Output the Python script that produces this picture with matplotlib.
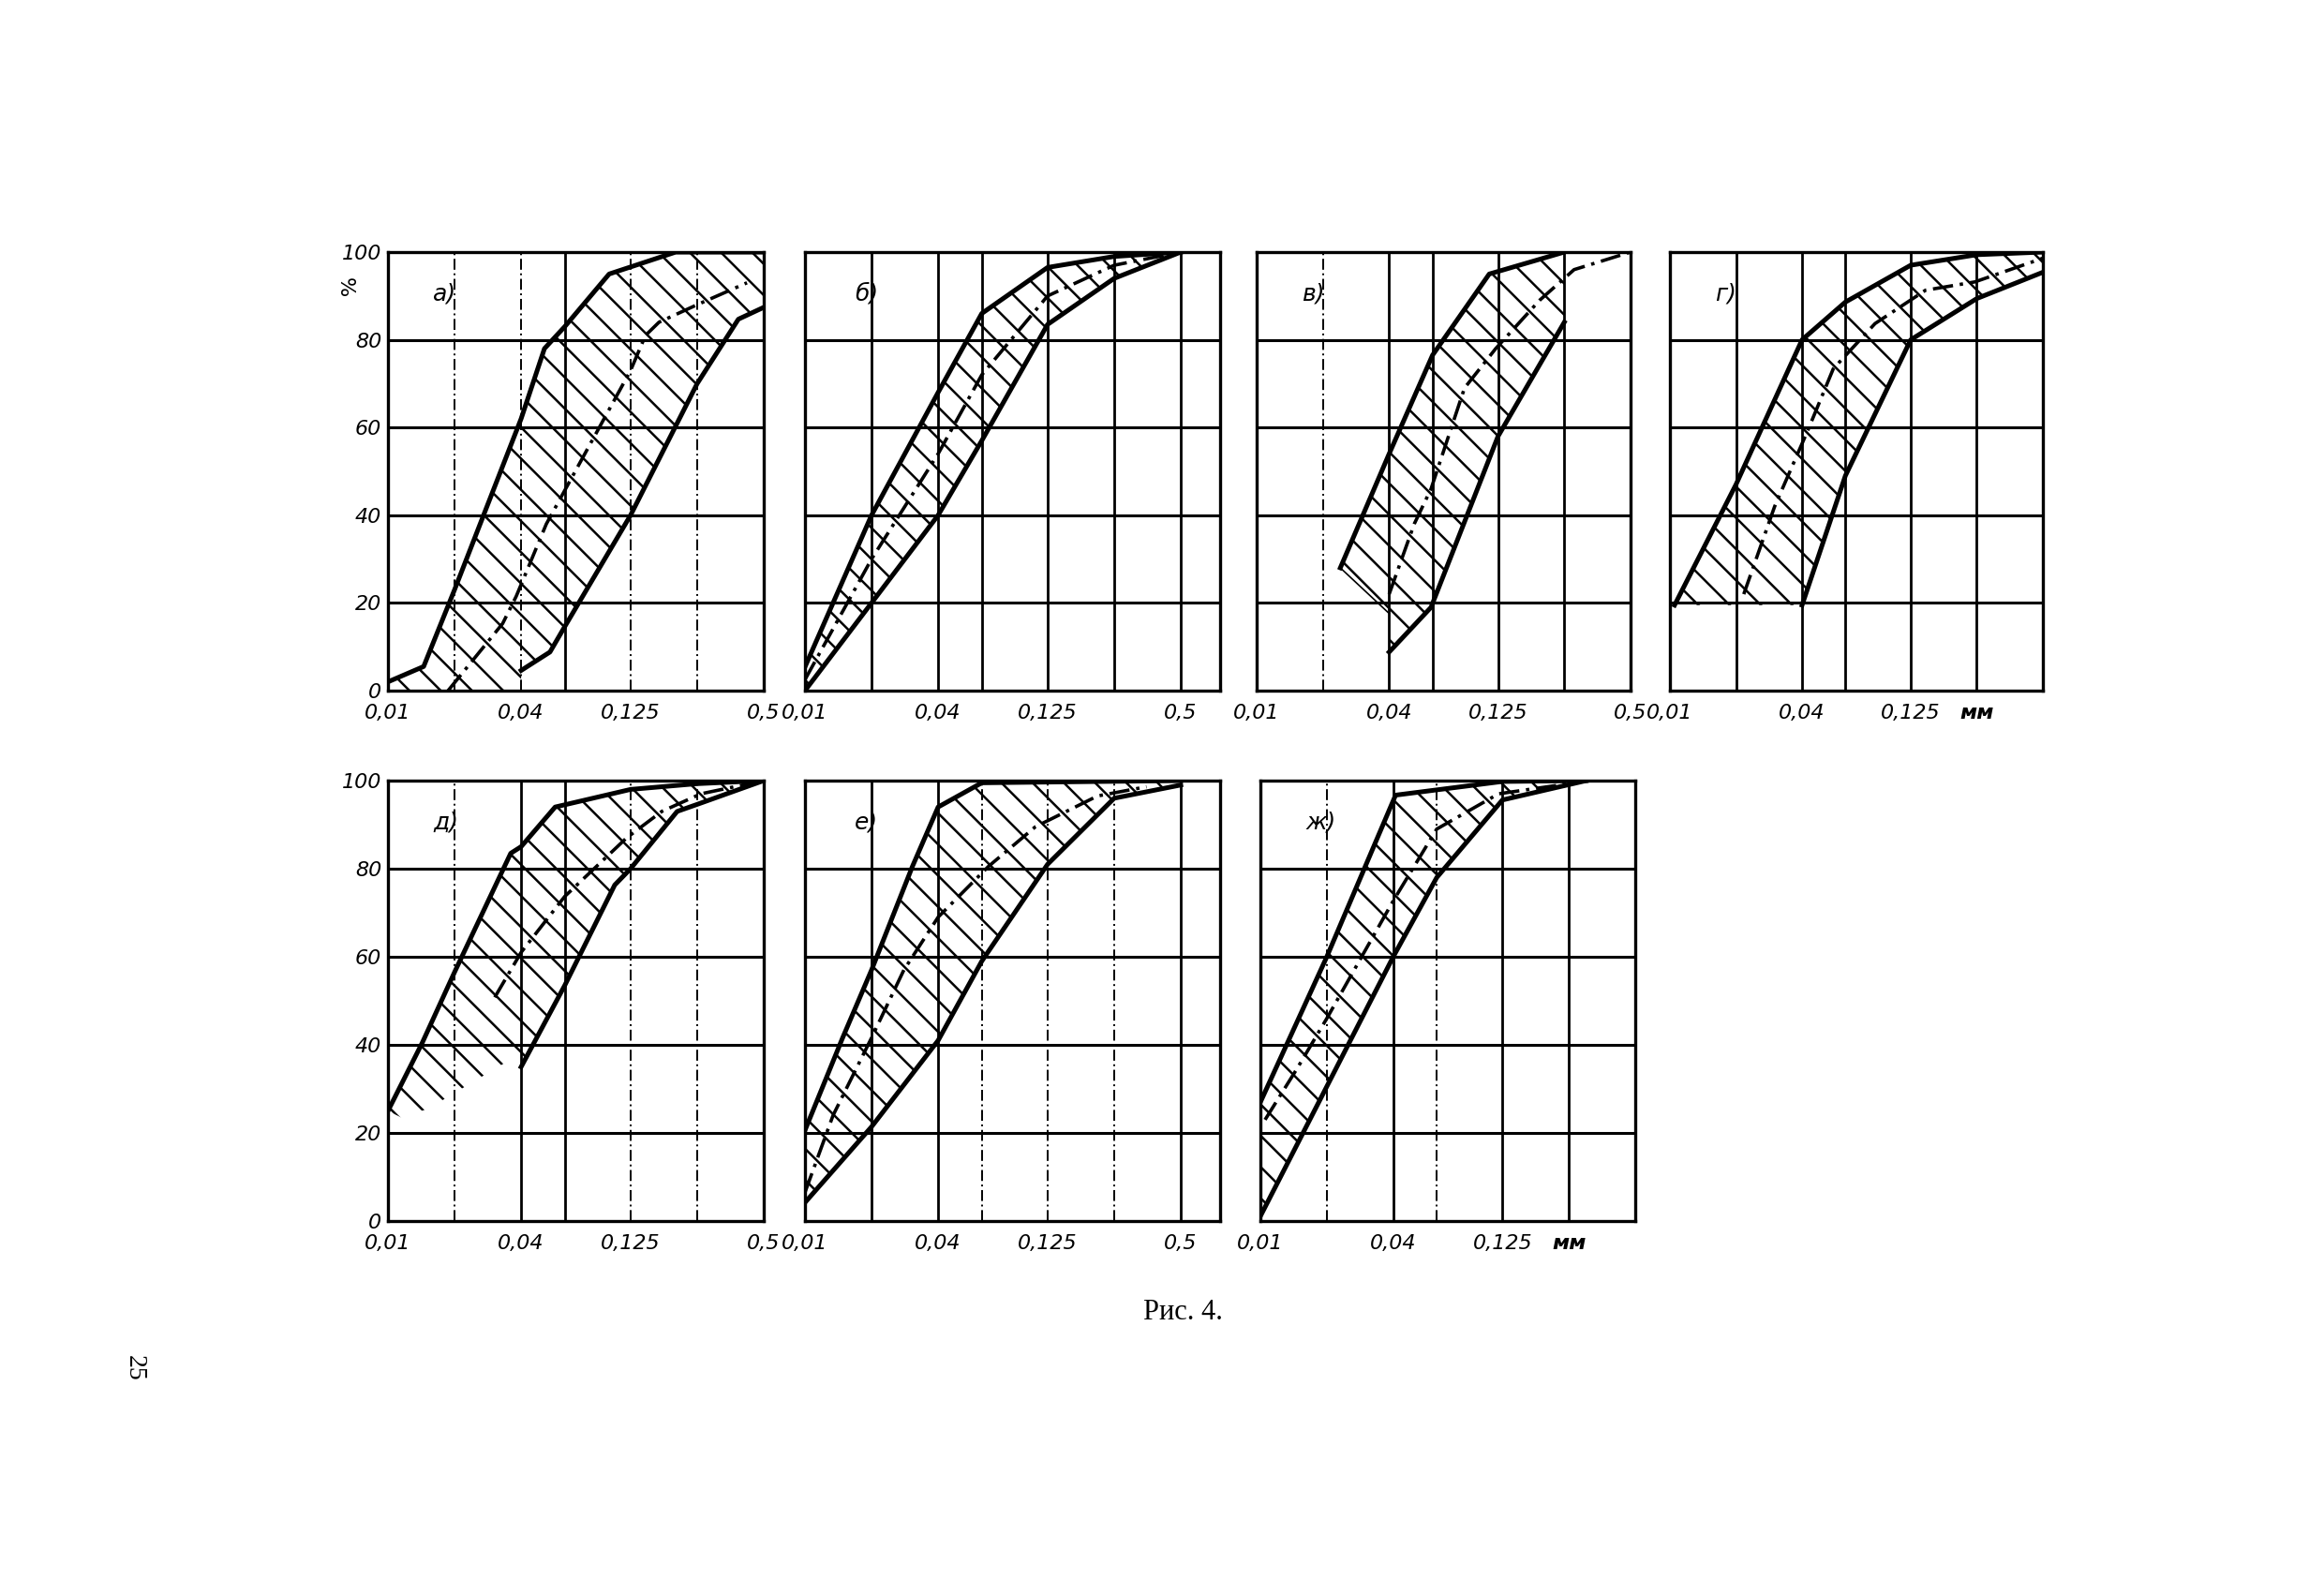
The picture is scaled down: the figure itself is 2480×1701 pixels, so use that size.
import matplotlib
matplotlib.use("Agg")
import matplotlib.pyplot as plt

plt.rcParams['font.family'] = ['DejaVu Sans']
plt.rcParams['hatch.linewidth'] = 1.8
plt.rcParams['hatch.color'] = 'black'

# Сітка та підписи осей
GRID_X = [0.02, 0.04, 0.063, 0.125, 0.25, 0.5]
GRID_Y = [20, 40, 60, 80]
XTICKS = [0.01, 0.04, 0.125, 0.5]
XTICK_LABELS = ['0,01', '0,04', '0,125', '0,5']
YTICKS = [0, 20, 40, 60, 80, 100]
YTICK_LABELS = ['0', '20', '40', '60', '80', '100']

# а)
a_up_x = [0.01, 0.0145, 0.02, 0.04, 0.051, 0.063, 0.10, 0.2, 0.5]
a_up_y = [2, 5.5, 23, 62, 78, 83, 95, 100, 100]
a_lo_x = [0.04, 0.054, 0.063, 0.125, 0.25, 0.384, 0.5]
a_lo_y = [4.6, 8.8, 14.6, 40, 70, 84.7, 87.4]
a_mid_x = [0.0187, 0.033, 0.038, 0.052, 0.125, 0.146, 0.168, 0.25, 0.42]
a_mid_y = [0, 15.3, 21.5, 38, 73, 81, 84, 88, 93]
a_edge_x = [0.04, 0.01]
a_edge_y = [0, 0]

# б)
b_up_x = [0.01, 0.02, 0.04, 0.063, 0.125, 0.25, 0.5]
b_up_y = [5.4, 40, 68, 86, 96.5, 99, 100]
b_lo_x = [0.01, 0.02, 0.04, 0.063, 0.125, 0.25, 0.5]
b_lo_y = [0, 20, 40, 57, 83.5, 94, 100]
b_mid_x = [0.01, 0.02, 0.04, 0.063, 0.125, 0.25, 0.5]
b_mid_y = [2.5, 30, 54, 72, 90, 97, 100]

# в)
v_up_x = [0.024, 0.04, 0.063, 0.114, 0.25]
v_up_y = [28, 54, 76.5, 95, 100]
v_lo_x = [0.04, 0.062, 0.125, 0.25]
v_lo_y = [8.8, 19, 58, 84]
v_mid_x = [0.04, 0.052, 0.062, 0.088, 0.122, 0.193, 0.277, 0.5]
v_mid_y = [22, 38, 46, 69, 78, 89, 96, 100]
v_edge_x = [0.04]
v_edge_y = [17.6]

# г)
g_up_x = [0.0105, 0.02, 0.04, 0.063, 0.125, 0.25, 0.5]
g_up_y = [19.5, 47, 80, 88.6, 97, 99.4, 100]
g_lo_x = [0.04, 0.063, 0.125, 0.25, 0.5]
g_lo_y = [19.5, 49, 80, 89.4, 95.4]
g_mid_x = [0.0217, 0.03, 0.0422, 0.0555, 0.086, 0.146, 0.245, 0.5]
g_mid_y = [22, 42, 59, 73.4, 83.7, 91.3, 93.2, 98.6]

# д)
d_up_x = [0.01, 0.0143, 0.02, 0.0359, 0.04, 0.057, 0.125, 0.25, 0.5]
d_up_y = [25, 40.5, 56.5, 83.5, 85, 94, 98, 99.3, 100]
d_lo_x = [0.04, 0.063, 0.106, 0.125, 0.203, 0.25, 0.5]
d_lo_y = [35, 53.5, 76.3, 80, 93, 94.6, 100]
d_mid_x = [0.0304, 0.04, 0.063, 0.12, 0.173, 0.26, 0.5]
d_mid_y = [50.8, 61, 73.7, 87, 93, 97, 100]
d_edge_x = [0.034, 0.0152, 0.0115]
d_edge_y = [36, 25.5, 23.5]

# е)
e_up_x = [0.01, 0.0148, 0.02, 0.0306, 0.04, 0.063, 0.5]
e_up_y = [20.6, 41.6, 57, 80.5, 94, 99.5, 100]
e_lo_x = [0.01, 0.02, 0.04, 0.063, 0.125, 0.25, 0.5]
e_lo_y = [4.2, 21.4, 41, 59, 81, 96, 99]
e_mid_x = [0.01, 0.0134, 0.02, 0.028, 0.04, 0.0675, 0.11, 0.21, 0.35]
e_mid_y = [6.5, 24, 41.6, 57, 69, 80.5, 89.5, 96.5, 98.6]

# ж)
zh_up_x = [0.01, 0.02, 0.041, 0.125, 0.3]
zh_up_y = [27, 60, 96.7, 99.8, 100]
zh_lo_x = [0.01, 0.04, 0.063, 0.125, 0.3]
zh_lo_y = [1.1, 60, 78, 95.6, 100]
zh_mid_x = [0.0105, 0.0147, 0.02, 0.04, 0.063, 0.12, 0.25]
zh_mid_y = [23, 34.7, 46, 72.7, 89, 97, 99.3]

W, H = 2480, 1701
fig = plt.figure(figsize=(W / 100, H / 100), dpi=100)
fig.patch.set_facecolor('white')


def add_axes(left, right, top, bottom):
    return fig.add_axes([left / W, 1 - bottom / H, (right - left) / W, (bottom - top) / H])


def draw_panel(ax, letter, xmax, up_x, up_y, lo_x, lo_y, mid_x, mid_y,
               edge_x=(), edge_y=(), dashed=(), ylabels=False, mm=False):
    ax.set_xscale('log')
    ax.set_xlim(0.01, xmax)
    ax.set_ylim(0, 100)
    ax.minorticks_off()

    # Сітка: частина вертикальних ліній штрих-пунктирна, як у оригіналі
    for gx in GRID_X:
        if gx >= xmax * 0.999:
            continue
        if gx in dashed:
            ax.axvline(gx, color='black', lw=1.4, ls=(0, (6, 2, 1, 2)), zorder=1)
        else:
            ax.axvline(gx, color='black', lw=2.0, zorder=1)
    for gy in GRID_Y:
        ax.axhline(gy, color='black', lw=2.2, zorder=1)

    # Заштрихована зона між межами
    zx = list(up_x) + list(lo_x)[::-1] + list(edge_x)
    zy = list(up_y) + list(lo_y)[::-1] + list(edge_y)
    ax.fill(zx, zy, facecolor='none', edgecolor='black', hatch='\\',
            linewidth=0, zorder=2)

    ax.plot(up_x, up_y, color='black', lw=3.6, solid_joinstyle='round', zorder=3)
    ax.plot(lo_x, lo_y, color='black', lw=3.6, solid_joinstyle='round', zorder=3)
    ax.plot(mid_x, mid_y, color='black', lw=2.6, ls=(0, (6, 2, 1, 2)), zorder=3)

    for s in ax.spines.values():
        s.set_linewidth(2.4)

    ax.text(0.12, 0.905, letter, transform=ax.transAxes, fontsize=18,
            style='italic', ha='left', va='center')

    if mm:
        ax.set_xticks(XTICKS[:3] + [0.25])
        ax.set_xticklabels(XTICK_LABELS[:3] + ['мм'])
        ax.get_xticklabels()[-1].set_fontweight('bold')
    else:
        ax.set_xticks(XTICKS)
        ax.set_xticklabels(XTICK_LABELS)
    ax.tick_params(axis='x', length=0, pad=10, labelsize=16)
    for t in ax.get_xticklabels():
        t.set_style('italic')

    ax.set_yticks(YTICKS)
    if ylabels:
        ax.set_yticklabels(YTICK_LABELS)
        for t in ax.get_yticklabels():
            t.set_style('italic')
        ax.tick_params(axis='y', length=0, pad=5, labelsize=16)
    else:
        ax.set_yticklabels([])
        ax.tick_params(axis='y', length=0)


ax_a = add_axes(414, 815, 269, 737)
draw_panel(ax_a, 'а)', 0.5, a_up_x, a_up_y, a_lo_x, a_lo_y, a_mid_x, a_mid_y,
           a_edge_x, a_edge_y, dashed=(0.02, 0.04, 0.125, 0.25), ylabels=True)
ax_a.text(-0.115, 0.92, '%', transform=ax_a.transAxes, fontsize=16,
          rotation=-90, ha='center', va='center')

ax_b = add_axes(859, 1302, 269, 737)
draw_panel(ax_b, 'б)', 0.753, b_up_x, b_up_y, b_lo_x, b_lo_y, b_mid_x, b_mid_y)

ax_v = add_axes(1341, 1740, 269, 737)
draw_panel(ax_v, 'в)', 0.5, v_up_x, v_up_y, v_lo_x, v_lo_y, v_mid_x, v_mid_y,
           v_edge_x, v_edge_y, dashed=(0.02,))
ax_v.plot([v_up_x[0], v_edge_x[0]], [v_up_y[0], v_edge_y[0]], color='black', lw=1.2, zorder=3)

ax_g = add_axes(1782, 2180, 269, 737)
draw_panel(ax_g, 'г)', 0.5, g_up_x, g_up_y, g_lo_x, g_lo_y, g_mid_x, g_mid_y, mm=True)

ax_d = add_axes(414, 815, 833, 1303)
draw_panel(ax_d, 'д)', 0.5, d_up_x, d_up_y, d_lo_x, d_lo_y, d_mid_x, d_mid_y,
           d_edge_x, d_edge_y, dashed=(0.02, 0.125, 0.25), ylabels=True)

ax_e = add_axes(859, 1302, 833, 1303)
draw_panel(ax_e, 'е)', 0.753, e_up_x, e_up_y, e_lo_x, e_lo_y, e_mid_x, e_mid_y,
           dashed=(0.063, 0.125, 0.25))

ax_zh = add_axes(1345, 1745, 833, 1303)
draw_panel(ax_zh, 'ж)', 0.5, zh_up_x, zh_up_y, zh_lo_x, zh_lo_y, zh_mid_x, zh_mid_y,
           dashed=(0.02, 0.063), mm=True)

fig.text(1262 / W, 1 - 1400 / H, 'Рис. 4.', family='Liberation Serif',
         fontsize=22, ha='center', va='center')
fig.text(143 / W, 1 - 1460 / H, '25', family='Liberation Serif',
         fontsize=20, rotation=-90, ha='center', va='center')

fig.savefig('out.png', dpi=100, facecolor='white')
